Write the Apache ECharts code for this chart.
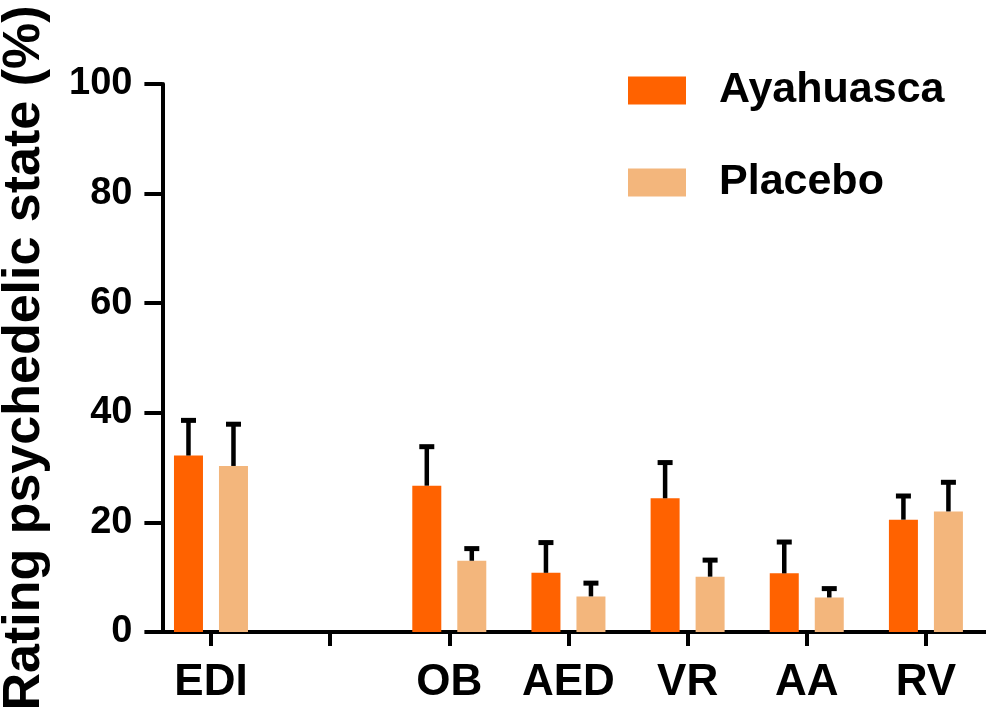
<!DOCTYPE html>
<html>
<head>
<meta charset="utf-8">
<script src="https://cdn.jsdelivr.net/npm/echarts@6/dist/echarts.min.js"></script>
<style>html,body{margin:0;padding:0;background:#fff;}#c{width:986px;height:715px;}</style>
</head>
<body>
<div id="c"></div>
<script>
const categories = ['EDI', '', 'OB', 'AED', 'VR', 'AA', 'RV'];
const ayahuasca = [32.2, null, 26.7, 10.8, 24.4, 10.7, 20.5];
const ayahuascaErr = [6.6, null, 7.3, 5.7, 6.7, 5.9, 4.5];
const placebo = [30.3, null, 13.0, 6.5, 10.1, 6.3, 22.0];
const placeboErr = [7.8, null, 2.4, 2.6, 3.2, 1.8, 5.5];
const yTicks = [0, 20, 40, 60, 80, 100];

const FONT = '"Liberation Sans", Arial, sans-serif';
const BAR_W = 29, BAR_GAP = 16;
const OFF = (BAR_W + BAR_GAP) / 2;

function errSeries(name, values, errs, sign) {
  const data = [];
  values.forEach((v, i) => { if (v != null) data.push([i, v, errs[i]]); });
  return {
    type: 'custom', name: name + ' err', z: 5, silent: true,
    renderItem: function (params, api) {
      const i = api.value(0), v = api.value(1), e = api.value(2);
      const base = api.coord([i, v]);
      const top = api.coord([i, v + e]);
      const x = base[0] + sign * OFF;
      return {
        type: 'group', children: [
          { type: 'line', shape: { x1: x, y1: base[1], x2: x, y2: top[1] }, style: { stroke: '#000', lineWidth: 4.5 } },
          { type: 'line', shape: { x1: x - 7.5, y1: top[1] + 1, x2: x + 7.5, y2: top[1] + 1 }, style: { stroke: '#000', lineWidth: 5 } }
        ]
      };
    },
    data: data
  };
}

const chart = echarts.init(document.getElementById('c'));
chart.setOption({
  animation: false,
  backgroundColor: '#fff',
  grid: { left: 151.4, right: 0.5, top: 84, bottom: 83, containLabel: false },
  legend: {
    data: ['Ayahuasca', 'Placebo'], orient: 'vertical', left: 628, top: 69, padding: 0,
    itemWidth: 58, itemHeight: 28, itemGap: 49, icon: 'rect',
    textStyle: { fontFamily: FONT, fontWeight: 'bold', fontSize: 43, color: '#000', lineHeight: 43, padding: [0, 0, 0, 28] }
  },
  graphic: [{
    type: 'text', x: 25, y: 358, rotation: Math.PI / 2,
    style: { text: 'Rating psychedelic state (%)', fontFamily: FONT, fontWeight: 'bold', fontSize: 52, fill: '#000', textAlign: 'center', textVerticalAlign: 'middle' }
  }],
  xAxis: {
    type: 'category', data: categories, boundaryGap: true,
    axisLine: { lineStyle: { color: '#000', width: 4 } },
    axisTick: { show: true, interval: 0, alignWithLabel: true, length: 14, lineStyle: { color: '#000', width: 4 } },
    axisLabel: { interval: 0, margin: 29, color: '#000', fontFamily: FONT, fontWeight: 'bold', fontSize: 44 },
    splitLine: { show: false }
  },
  yAxis: {
    type: 'value', min: 0, max: 100, interval: 20, offset: -11,
    axisLine: { show: true, lineStyle: { color: '#000', width: 4 } },
    axisTick: { show: true, length: 18, lineStyle: { color: '#000', width: 4 } },
    axisLabel: { margin: 30, color: '#000', fontFamily: FONT, fontWeight: 'bold', fontSize: 38,
      formatter: v => yTicks.indexOf(v) >= 0 ? String(v) : '' },
    splitLine: { show: false }
  },
  series: [
    { name: 'Ayahuasca', type: 'bar', data: ayahuasca, barWidth: BAR_W, barGap: (BAR_GAP / BAR_W * 100) + '%', itemStyle: { color: '#FF6200' } },
    { name: 'Placebo', type: 'bar', data: placebo, barWidth: BAR_W, itemStyle: { color: '#F3B67C' } },
    errSeries('Ayahuasca', ayahuasca, ayahuascaErr, -1),
    errSeries('Placebo', placebo, placeboErr, 1)
  ]
});
</script>
</body>
</html>
